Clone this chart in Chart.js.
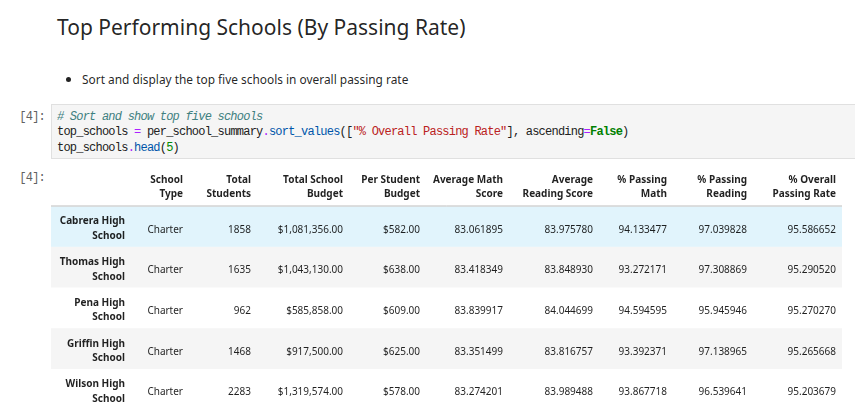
<!DOCTYPE html>
<html>
<head>
<meta charset="utf-8">
<script src="https://cdn.jsdelivr.net/npm/chart.js@4.4.1/dist/chart.umd.min.js"></script>
<style>
  body { margin: 0; width: 855px; height: 409px; overflow: hidden; background: #fff;
         font-family: "Noto Sans", sans-serif; color: rgba(0,0,0,0.87); position: relative; }
  h2 { position: absolute; left: 57px; top: 11.5px; margin: 0; font-size: 21px; font-weight: 400;
       line-height: 30px; white-space: nowrap; }
  .bullet { position: absolute; left: 82px; top: 69.5px; font-size: 11.9px; line-height: 18px; white-space: nowrap; }
  .bullet::before { content: ""; position: absolute; left: -16px; top: 7px; width: 5px; height: 5px;
                    border-radius: 50%; background: #222; }
  .prompt { position: absolute; left: 0; width: 45px; text-align: right; color: #616161;
            font-family: "Liberation Mono", monospace; font-size: 12px; letter-spacing: -0.78px; line-height: 15.5px; }
  .code { position: absolute; left: 51px; top: 104px; width: 820px; height: 53px; background: #f5f5f5;
          border: 1px solid #e0e0e0; }
  .code pre { margin: 0; padding: 4.5px 0 0 5px; font-family: "Liberation Mono", monospace; font-size: 12px;
              letter-spacing: -0.78px; line-height: 15.5px; color: #212121; }
  .c { color: #408080; font-style: italic; }
  .o { color: #aa22ff; }
  .p { color: #0055aa; }
  .s { color: #ba2121; }
  .k { color: #008000; font-weight: bold; }
  .n { color: #008800; }
  #tableWrap { position: absolute; left: 0; top: 160px; width: 855px; height: 250px; }
</style>
</head>
<body>
<h2>Top Performing Schools (By Passing Rate)</h2>
<div class="bullet">Sort and display the top five schools in overall passing rate</div>

<div class="prompt" style="top:109.5px">[4]:</div>
<div class="code"><pre><span class="c"># Sort and show top five schools</span>
top_schools <span class="o">=</span> per_school_summary<span class="o">.</span><span class="p">sort_values</span>([<span class="s">"% Overall Passing Rate"</span>], ascending<span class="o">=</span><span class="k">False</span>)
top_schools<span class="o">.</span><span class="p">head</span>(<span class="n">5</span>)</pre></div>

<div class="prompt" style="top:171px">[4]:</div>
<div id="tableWrap"><canvas id="tableChart" width="855" height="250"></canvas></div>

<script>
// Dữ liệu bảng
const schools = ['Cabrera High School', 'Thomas High School', 'Pena High School', 'Griffin High School', 'Wilson High School'];
const schoolType = ['Charter', 'Charter', 'Charter', 'Charter', 'Charter'];
const totalStudents = [1858, 1635, 962, 1468, 2283];
const totalBudget = [1081356, 1043130, 585858, 917500, 1319574];
const perStudentBudget = [582, 638, 609, 625, 578];
const avgMath = [83.061895, 83.418349, 83.839917, 83.351499, 83.274201];
const avgReading = [83.975780, 83.848930, 84.044699, 83.816757, 83.989488];
const pctMath = [94.133477, 93.272171, 94.594595, 93.392371, 93.867718];
const pctReading = [97.039828, 97.308869, 95.945946, 97.138965, 96.539641];
const pctOverall = [95.586652, 95.290520, 95.270270, 95.265668, 95.203679];

const headers = [
    ['', ''], ['School', 'Type'], ['Total', 'Students'], ['Total School', 'Budget'], ['Per Student', 'Budget'],
    ['Average Math', 'Score'], ['Average', 'Reading Score'], ['% Passing', 'Math'], ['% Passing', 'Reading'],
    ['% Overall', 'Passing Rate']
];

// Bố cục: cạnh phải của từng cột (đơn vị trục x), màu nền hàng
const tableWidth = 791;
const colRight = [74, 132, 200, 292, 369, 452, 542, 616, 696, 785];
const rowColors = ['#e1f4fc', '#f5f5f5', '#ffffff', '#f5f5f5', '#ffffff'];

const money = v => '$' + v.toLocaleString('en-US', { minimumFractionDigits: 2, maximumFractionDigits: 2 });
const columns = [
    null,
    schoolType,
    totalStudents.map(String),
    totalBudget.map(money),
    perStudentBudget.map(money),
    avgMath.map(v => v.toFixed(6)),
    avgReading.map(v => v.toFixed(6)),
    pctMath.map(v => v.toFixed(6)),
    pctReading.map(v => v.toFixed(6)),
    pctOverall.map(v => v.toFixed(6))
];

const cellText = {
    id: 'cellText',
    afterDatasetsDraw(chart) {
        const { ctx, chartArea, scales: { x, y } } = chart;
        ctx.save();
        ctx.textAlign = 'right';
        ctx.textBaseline = 'alphabetic';
        ctx.fillStyle = 'rgba(0,0,0,0.87)';

        // tiêu đề cột
        ctx.font = 'bold 10px "Noto Sans"';
        headers.forEach((h, j) => {
            const px = x.getPixelForValue(colRight[j]);
            ctx.fillText(h[0], px, chartArea.top - 23.8);
            ctx.fillText(h[1], px, chartArea.top - 9.2);
        });
        ctx.strokeStyle = '#bdbdbd';
        ctx.lineWidth = 1;
        ctx.beginPath();
        ctx.moveTo(chartArea.left, chartArea.top - 0.5);
        ctx.lineTo(chartArea.right, chartArea.top - 0.5);
        ctx.stroke();

        schools.forEach((name, i) => {
            const cy = y.getPixelForValue(i);
            ctx.font = 'bold 10px "Noto Sans"';
            const px0 = x.getPixelForValue(colRight[0]);
            ctx.fillText(name.replace(' School', ''), px0, cy - 2.4);
            ctx.fillText('School', px0, cy + 12.2);
            ctx.font = '10px "Noto Sans"';
            for (let j = 1; j < columns.length; j++) {
                ctx.fillText(columns[j][i], x.getPixelForValue(colRight[j]), cy + 5.7);
            }
        });
        ctx.restore();
    }
};

const tableCtx = document.getElementById('tableChart').getContext('2d');
new Chart(tableCtx, {
    type: 'bar',
    data: {
        labels: schools,
        datasets: [{
            data: schools.map(() => [0, tableWidth]),
            backgroundColor: rowColors,
            borderWidth: 0,
            barPercentage: 1,
            categoryPercentage: 1
        }]
    },
    options: {
        indexAxis: 'y',
        responsive: false,
        animation: false,
        layout: { padding: { top: 46.5, left: 51, right: 13, bottom: 0 } },
        scales: {
            x: { type: 'linear', min: 0, max: tableWidth, display: false },
            y: { display: false }
        },
        plugins: { legend: { display: false }, tooltip: { enabled: false } },
        events: []
    },
    plugins: [cellText]
});
</script>
</body>
</html>
